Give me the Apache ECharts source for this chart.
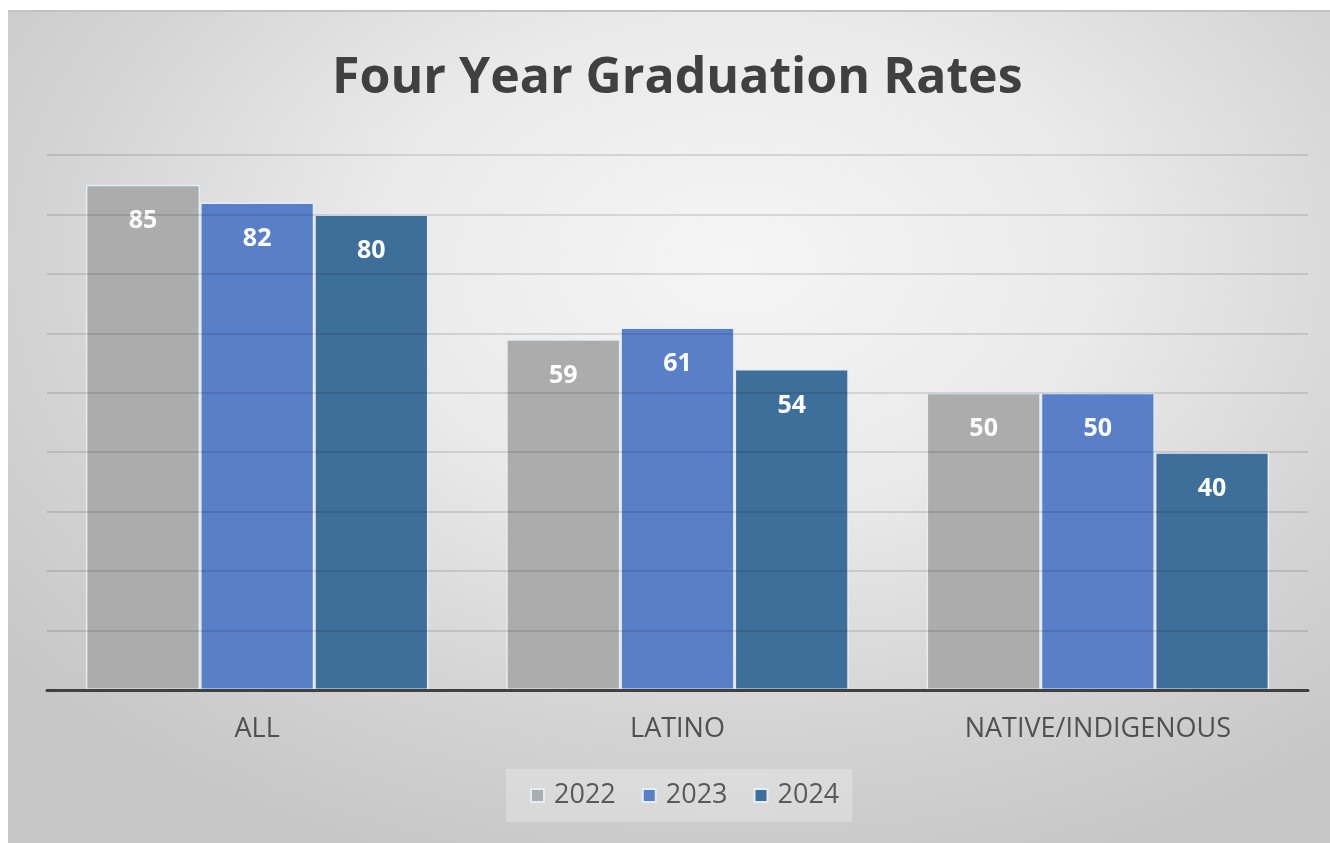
<!DOCTYPE html>
<html>
<head>
<meta charset="utf-8">
<script src="https://cdn.jsdelivr.net/npm/echarts@6/dist/echarts.min.js"></script>
<style>
  html, body { margin: 0; padding: 0; background: #ffffff; }
  #frame {
    position: absolute; left: 8px; top: 10px; width: 1322px; height: 833px;
    box-sizing: border-box;
    border-top: 2px solid #c2c2c2;
    background: radial-gradient(ellipse 72% 78% at 55% 30%, #f5f5f5 0%, #eaeaea 38%, #d4d4d4 72%, #c6c6c6 100%);
  }
  #chart { width: 100%; height: 100%; }
</style>
</head>
<body>
<div id="frame"><div id="chart"></div></div>
<script>
// Four-year graduation rates by student group
const categories = ['ALL', 'LATINO', 'NATIVE/INDIGENOUS'];
const years = ['2022', '2023', '2024'];
const rates2022 = [85, 59, 50];
const rates2023 = [82, 61, 50];
const rates2024 = [80, 54, 40];
const yTicks = { min: 0, max: 90, interval: 10 };

const colors = ['#acacac', '#5a7fc9', '#3e6f9b'];
const seriesData = [rates2022, rates2023, rates2024];
const fontFam = '"Open Sans", Lato, sans-serif';

const chart = echarts.init(document.getElementById('chart'));
chart.setOption({
  animation: false,
  title: {
    text: 'Four Year Graduation Rates',
    left: 319,
    top: 37,
    textStyle: { fontFamily: fontFam, fontWeight: 'bold', fontSize: 50, color: '#404040' }
  },
  legend: {
    data: years,
    left: 498,
    top: 757,
    icon: 'rect',
    itemWidth: 13,
    itemHeight: 13,
    itemGap: 26,
    padding: [13, 13, 13, 24],
    backgroundColor: 'rgba(255,255,255,0.25)',
    textStyle: { fontFamily: fontFam, fontSize: 27, color: '#595959', padding: [0, 0, 0, 5] }
  },
  grid: { left: 39, right: 22, top: 143, bottom: 153, containLabel: false },
  xAxis: {
    type: 'category',
    data: categories,
    z: 3,
    axisLine: { lineStyle: { color: '#404040', width: 3 } },
    axisTick: { show: false },
    axisLabel: { fontFamily: fontFam, fontSize: 27, color: '#505050', margin: 26 }
  },
  yAxis: {
    type: 'value',
    min: yTicks.min, max: yTicks.max, interval: yTicks.interval,
    z: 3,
    axisLine: { show: false },
    axisTick: { show: false },
    axisLabel: { show: false },
    splitLine: { lineStyle: { color: 'rgba(0,0,0,0.15)', width: 1.5 } }
  },
  series: years.map((y, i) => ({
    name: y,
    type: 'bar',
    data: seriesData[i],
    barGap: '0%',
    barCategoryGap: '18.5%',
    itemStyle: { color: colors[i], borderColor: '#e4eef8', borderWidth: 1.5 },
    label: {
      show: true,
      position: 'insideTop',
      distance: 24,
      fontFamily: fontFam,
      fontWeight: 'bold',
      fontSize: 25,
      color: '#ffffff'
    }
  }))
});
</script>
</body>
</html>
